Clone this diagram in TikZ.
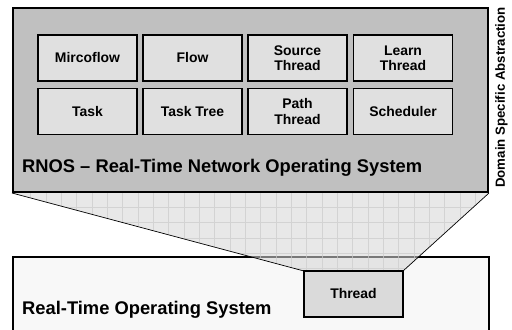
\documentclass[tikz,border=0pt]{standalone}
\usepackage{fontspec}
\setmainfont{Liberation Sans}
\usepackage{tikz}
\usepackage{xcolor}
\usetikzlibrary{calc,positioning}
\definecolor{rnosgray}{HTML}{C0C0C0}
\definecolor{blockgray}{HTML}{E0E0E0}
\definecolor{rtosgray}{HTML}{F8F8F8}
\definecolor{threadgray}{HTML}{DADADA}
\tikzset{%
	layerbox/.style  = {draw, rectangle, line width=2bp, inner sep=0pt},
	blockbox/.style  = {draw, rectangle, line width=1.4bp, fill=blockgray, minimum width=99bp, minimum height=46bp, inner sep=0pt, align=center, font=\bfseries\fontsize{14}{15.5}\selectfont},
	layertext/.style = {anchor=base west, inner sep=0pt, font=\bfseries\fontsize{18.4}{20}\selectfont},
	funnelfill/.style= {fill=black!16, fill opacity=0.56},
	gridline/.style  = {draw=black!20, line width=0.6bp, opacity=0.7},
	edgeline/.style  = {line width=0.7bp},
}

\begin{document}
\begin{tikzpicture}[x=1bp,y=-1bp]
		\useasboundingbox (0,0) rectangle (512,329);
		\clip (0,0) rectangle (512,329);
		% upper layer
		\node[layerbox, fill=rnosgray, minimum width=475bp, minimum height=184bp] (rnos) at (250.5,100) {};
		\node[blockbox] (mircoflow) at (87.5,58) {Mircoflow};
		\node[blockbox] (flow) at (192.5,58) {Flow};
		\node[blockbox] (source) at (297.5,58) {Source\\Thread};
		\node[blockbox] (learn) at (403,58) {Learn\\Thread};
		\node[blockbox] (task) at (87.5,111.5) {Task};
		\node[blockbox] (tasktree) at (192.5,111.5) {Task Tree};
		\node[blockbox] (path) at (297.5,111.5) {Path\\Thread};
		\node[blockbox] (scheduler) at (403,111.5) {Scheduler};
		\node[layertext] (rnoslabel) at (22,172) {RNOS -- Real-Time Network Operating System};
		% lower layer, runs past the bottom edge
		\node[layerbox, fill=rtosgray, minimum width=476bp, minimum height=120bp] (rtos) at (251,317) {};
		\node[layertext] (rtoslabel) at (22,314) {Real-Time Operating System};
		\coordinate (thread nw) at (304,271);
		\coordinate (thread ne) at (403,271);
		% funnel with grid
		\begin{scope}
			\clip (rnos.south west) -- (thread nw) -- (thread ne) -- (rnos.south east) -- cycle;
			\fill[funnelfill] (0,190) rectangle (512,275);
			\begin{scope}[shift={(0,192)}]
				\draw[gridline, xstep=15.33bp, ystep=15.33bp] (0,-2) grid (512,90);
			\end{scope}
		\end{scope}
		\draw[edgeline] (rnos.south west) -- (thread nw);
		\draw[edgeline] (rnos.south east) -- (thread ne);
		\node[blockbox, fill=threadgray] (thread) at (353.5,294) {Thread};
		\node[rotate=90, inner sep=0pt, font=\bfseries\fontsize{13.3}{14}\selectfont] (dsa) at (501.5,97.5) {Domain Specific Abstraction};
		\end{tikzpicture}
\end{document}
